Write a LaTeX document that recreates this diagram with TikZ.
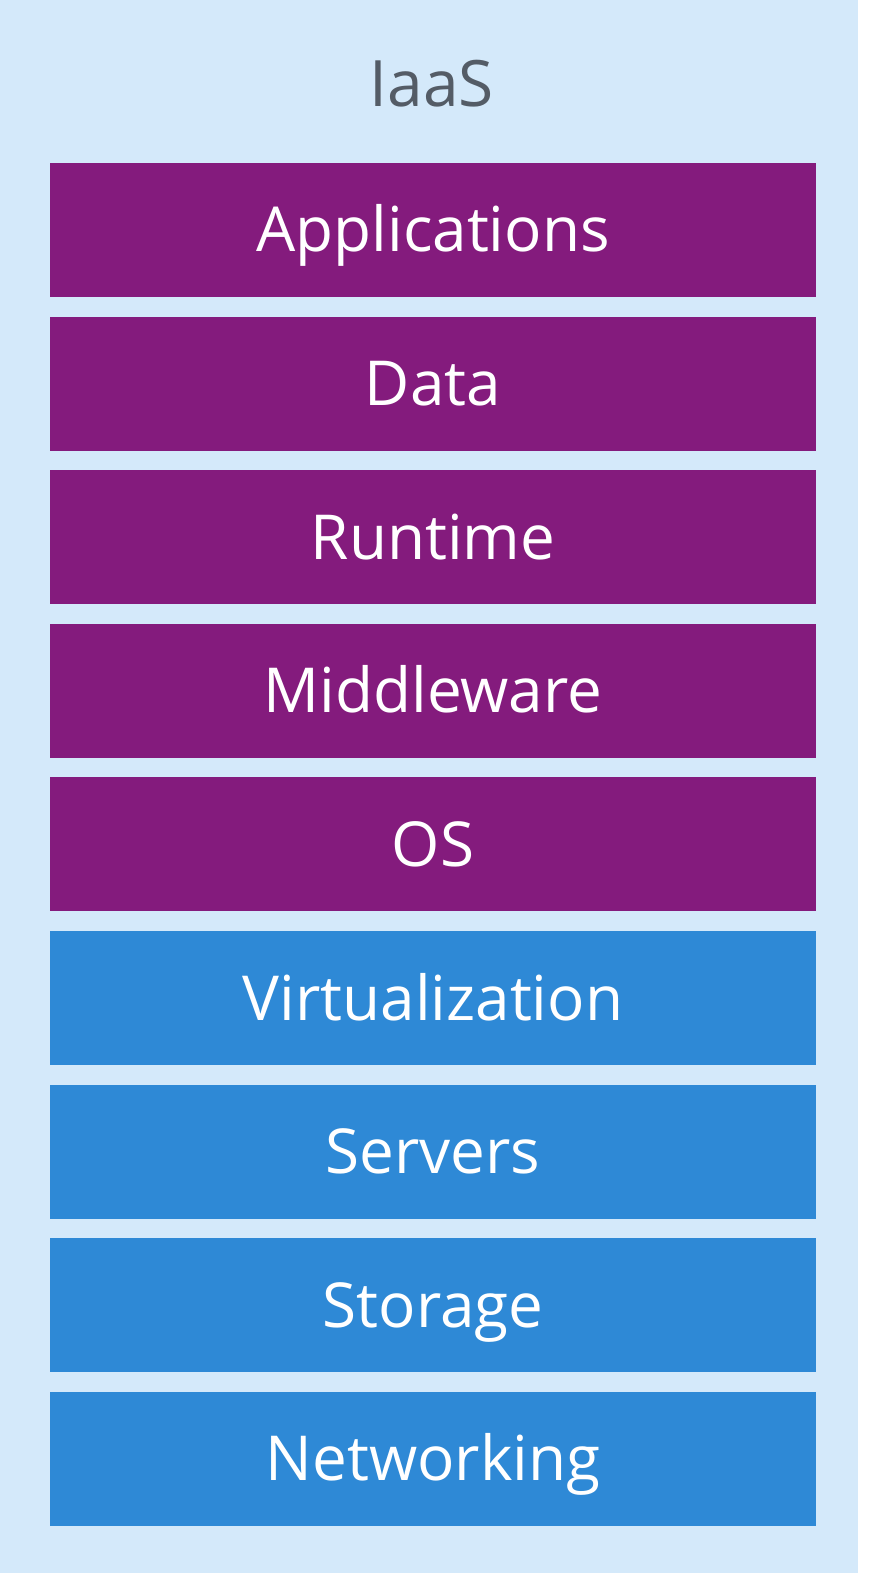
\documentclass[tikz,border=0pt]{standalone}
\usepackage{fontspec}
\setmainfont{Open Sans}
\usepackage{xcolor}

\definecolor{iaasbg}{RGB}{212,233,250}
\definecolor{userpurple}{RGB}{132,27,125}
\definecolor{provblue}{RGB}{46,137,214}
\definecolor{titlegrey}{RGB}{84,92,102}

\begin{document}
\begin{tikzpicture}
  [x=1pt,y=-1pt,
   layer/.style={rectangle,minimum width=766pt,minimum height=134pt,inner sep=0pt,
     text=white,font=\fontsize{62}{70}\selectfont,text height=44pt,text depth=0pt},
   managed/.style={layer,fill=userpurple},
   vendor/.style={layer,fill=provblue}]
  \useasboundingbox (0,0) rectangle (868,1578);
  \fill[iaasbg] (0,0) rectangle (858,1573);

  \node[text=titlegrey,font=\fontsize{64}{72}\selectfont,text height=45pt,text depth=0pt,inner sep=0pt] (title) at (432,84) {IaaS};

  \node[managed] (apps) at (433,230) {Applications};
  \node[managed] (data) at (433,383.6) {Data};
  \node[managed] (runtime) at (433,537.2) {Runtime};
  \node[managed] (middleware) at (433,690.8) {Middleware};
  \node[managed] (os) at (433,844.4) {OS};
  \node[vendor] (virt) at (433,998) {Virtualization};
  \node[vendor] (servers) at (433,1151.6) {Servers};
  \node[vendor] (storage) at (433,1305.2) {Storage};
  \node[vendor] (net) at (433,1458.8) {Networking};

\end{tikzpicture}
\end{document}
